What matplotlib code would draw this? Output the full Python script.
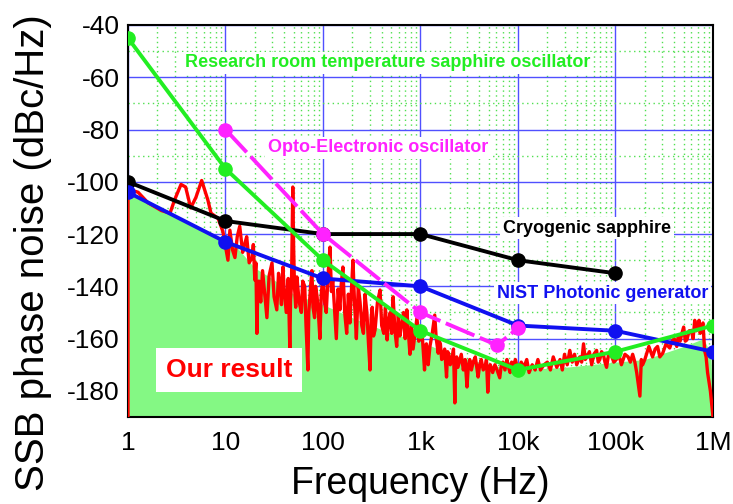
import matplotlib.pyplot as plt
import matplotlib.ticker as ticker
import numpy as np

plt.rcParams['font.family'] = ['Liberation Sans', 'DejaVu Sans']
plt.rcParams['axes.unicode_minus'] = False

red_pts = [
    (1, -190), (1, -104), (1.05, -103), (1.27, -104), (1.6, -108), (2.2, -111), (2.7, -112),
    (3.0, -107), (3.5, -101), (3.9, -102), (4.4, -110), (4.97, -106), (5.7, -99.5), (6.6, -107),
    (7.1, -112), (8.4, -114), (9.4, -119),
    (10.6, -130), (11.1, -118.5), (11.8, -126), (12.5, -129), (13.2, -121), (14, -117),
    (15, -127), (15.7, -124), (16.5, -121), (17.5, -131), (18.7, -129), (19.3, -124),
    (20, -137.6), (20.5, -131), (21, -158), (21.5, -139), (22, -138), (23, -146), (24, -134),
    (25, -141), (26.6, -152), (28, -136), (30, -131), (31.5, -144), (33.6, -149), (35, -135),
    (36, -138), (37.5, -147), (38.8, -132.6), (40, -141), (42, -150), (44, -137), (45.7, -164),
    (46.5, -145), (47.5, -140), (48.3, -120), (49, -102), (50, -125), (51, -140), (52.5, -148),
    (54, -136.4), (57, -146), (60, -150), (62, -138), (65, -140), (67, -155), (70, -172),
    (71.5, -150), (73, -145), (75, -139), (77, -134), (79, -148), (82, -152), (84, -140),
    (87, -144), (90, -151), (93, -160), (96, -143),
    (100, -136), (104, -146), (108, -150), (113, -135), (118, -125), (122, -142), (126, -137.6),
    (131, -148), (137, -160), (143, -141), (149, -149), (154, -139), (160, -132.6), (167, -150),
    (175, -158), (182, -143), (189, -154), (196, -141), (203, -130), (211, -147), (220, -160),
    (230, -140), (240, -146), (250, -155), (260, -158), (270, -143), (282, -150), (293, -162),
    (304, -172), (312, -152), (320, -148), (330, -159), (342, -156.7), (362, -146), (385, -141.4),
    (400, -155), (420, -158), (437, -148), (455, -160.5), (472, -153), (490, -150), (507, -158),
    (524, -144), (547, -157), (570, -163), (592, -151), (615, -159), (640, -155), (670, -150),
    (697, -160), (725, -149), (752, -158), (780, -166), (810, -155), (840, -164), (880, -158),
    (920, -152), (960, -161),
    (1000, -155.6), (1050, -160.5), (1100, -172), (1130, -163), (1150, -162), (1200, -170),
    (1250, -163), (1320, -158), (1400, -151), (1450, -160), (1520, -165.6), (1560, -161),
    (1600, -162), (1650, -168), (1700, -167), (1770, -164), (1850, -174.7), (1900, -165),
    (1950, -166), (2020, -170), (2100, -168), (2180, -164), (2250, -184.6), (2300, -168),
    (2350, -167), (2420, -171), (2500, -169), (2620, -166), (2750, -172), (2870, -168),
    (3000, -178.5), (3100, -170), (3200, -168), (3330, -172), (3470, -169), (3650, -167),
    (3900, -174.7), (4050, -170), (4200, -168), (4400, -172), (4600, -170.8), (4750, -168),
    (4900, -180.5), (5050, -171), (5200, -170), (5500, -173), (5800, -170), (6100, -172),
    (6500, -175), (6750, -170), (7000, -169), (7350, -172), (7700, -168), (8000, -171),
    (8300, -173), (8600, -169), (8900, -171), (9400, -168),
    (10000, -172), (10800, -169), (11500, -171), (12300, -168), (13000, -173), (14000, -170),
    (15000, -172), (16000, -168), (17000, -172), (18500, -170), (20000, -169), (21500, -172),
    (23000, -167), (25000, -171), (27000, -168), (28500, -172), (30000, -166), (32000, -170),
    (34000, -164.5), (36000, -169), (38000, -166), (40000, -170), (43000, -167), (45000, -169),
    (47000, -162), (49000, -168), (51000, -167), (54000, -165), (57000, -170), (60000, -166),
    (64000, -164.5), (66500, -169), (69000, -168), (72000, -165), (75000, -166), (78000, -169),
    (81000, -171), (85000, -166), (90000, -166), (96000, -169),
    (102000, -168), (108000, -166), (115000, -170), (125000, -166), (135000, -167),
    (142000, -169), (150000, -166), (158000, -169), (165000, -173), (178000, -182),
    (184000, -168), (190000, -170), (200000, -168), (220000, -163), (240000, -167),
    (255000, -164), (270000, -163), (285000, -167), (305000, -165.6), (330000, -162),
    (360000, -163.6), (380000, -161), (400000, -160), (425000, -163), (440000, -159),
    (460000, -161), (480000, -158), (500000, -155.6), (520000, -161), (540000, -160.5),
    (570000, -157), (600000, -157), (625000, -160), (650000, -153), (675000, -157),
    (700000, -156), (720000, -153), (740000, -158), (765000, -155), (790000, -154),
    (820000, -164.5), (850000, -167), (880000, -173), (940000, -180), (1000000, -190),
]

# top edge of the shaded area
fill_f = [1, 10, 13, 20, 30, 50, 100, 200, 500, 1000, 2000, 5000, 10000, 30000, 100000,
          200000, 500000, 800000, 950000, 1000000]
fill_db = [-104, -122.5, -125, -133, -137, -143, -147, -152, -158, -161, -166, -170, -172, -171, -169,
           -168, -163, -160, -166, -190]

# reference oscillators
green_f = [1, 10, 100, 1000, 10000, 100000, 1000000]
green_db = [-45, -95, -130, -157, -172, -165, -155]
magenta_f = [10, 100, 1000, 6100, 10000]
magenta_db = [-80, -120, -150, -162.5, -156]
black_f = [1, 10, 100, 1000, 10000, 100000]
black_db = [-100, -115, -120, -120, -130, -135]
blue_f = [1, 10, 100, 1000, 10000, 100000, 1000000]
blue_db = [-104, -123, -137, -140, -155, -157, -165]

xticks = [1, 10, 100, 1000, 10000, 100000, 1000000]
xticklabels = ['1', '10', '100', '1k', '10k', '100k', '1M']
yticks = [-180, -160, -140, -120, -100, -80, -60, -40]

red_f, red_db = np.array(red_pts).T

fig = plt.figure(figsize=(7.33, 5.04), dpi=100)
ax = fig.add_axes([0.1746, 0.1726, 0.7981, 0.7778])
ax.set_xscale('log')
ax.set_xlim(1, 1e6)
ax.set_ylim(-190, -40)

ax.set_axisbelow(True)
ax.set_xticks(xticks)
ax.set_xticklabels(xticklabels)
ax.set_yticks(yticks)
ax.set_yticks(np.arange(-190, -39, 10), minor=True)
ax.xaxis.set_minor_locator(ticker.LogLocator(base=10, subs=np.arange(2, 10)))
ax.xaxis.set_minor_formatter(ticker.NullFormatter())
ax.grid(which='major', color='#5050ff', linewidth=1.0)
ax.grid(which='minor', color='#50e050', linewidth=1.0, linestyle=(0, (1, 2.5)))
ax.tick_params(which='both', direction='in', length=0, labelsize=19)
ax.tick_params(axis='x', pad=10)
ax.tick_params(axis='y', pad=6)
for s in ax.spines.values():
    s.set_linewidth(1.5)

ax.fill_between(fill_f, fill_db, -190, color='#84f884', linewidth=0, zorder=2)
ax.plot(red_f, red_db, color='#ff0000', linewidth=2.4, zorder=3)

ms = 9.5
lw = 2.8
ax.plot(black_f, black_db, '-o', color='black', linewidth=lw, markersize=ms, zorder=4)
ax.plot(blue_f, blue_db, '-o', color='#1010f0', linewidth=lw, markersize=ms, zorder=4)
ax.plot(green_f, green_db, '-o', color='#22ee22', linewidth=lw, markersize=ms, zorder=5)
ax.plot(magenta_f, magenta_db, 'o', color='#ff22ff', markersize=ms, zorder=5)
ax.plot(magenta_f, magenta_db, color='#ff22ff', linewidth=lw, linestyle=(0, (8, 1.5)), zorder=5)

box = dict(facecolor='white', edgecolor='none', pad=2)
ax.text(3.84, -54.5, 'Research room temperature sapphire oscillator', color='#22ee22',
        fontsize=13, fontweight='bold', va='center', ha='left', bbox=box, zorder=6)
ax.text(27.3, -87, 'Opto-Electronic oscillator', color='#ff22ff',
        fontsize=13, fontweight='bold', va='center', ha='left', bbox=box, zorder=6)
ax.text(7000, -117.7, 'Cryogenic sapphire', color='black',
        fontsize=13, fontweight='bold', va='center', ha='left', bbox=box, zorder=6)
ax.text(6100, -142.6, 'NIST Photonic generator', color='#1010f0',
        fontsize=13, fontweight='bold', va='center', ha='left', bbox=box, zorder=6)
ax.text(2.45, -172, 'Our result', color='#ff0000', fontsize=19, fontweight='bold',
        va='center', ha='left', zorder=6,
        bbox=dict(facecolor='white', edgecolor='none', pad=7))

ax.set_xlabel('Frequency (Hz)', fontsize=27, labelpad=8)
ax.set_ylabel('SSB phase noise (dBc/Hz)', fontsize=29)
ax.yaxis.set_label_coords(-0.13, 0.42)

fig.savefig('out.png', dpi=100)
